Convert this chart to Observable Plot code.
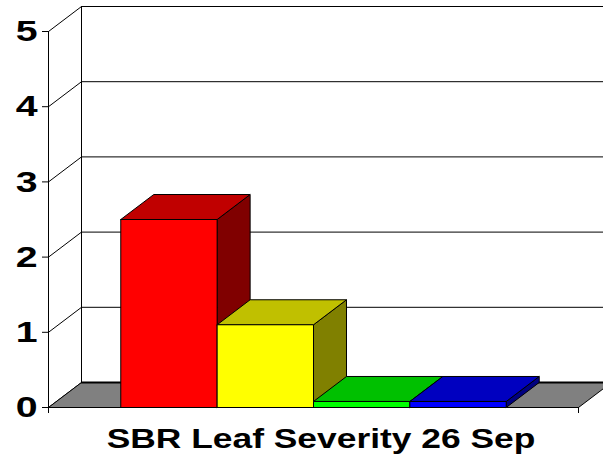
<!DOCTYPE html>
<html>
<head>
<meta charset="utf-8">
<script src="https://cdn.jsdelivr.net/npm/d3@7"></script>
<script src="https://cdn.jsdelivr.net/npm/@observablehq/plot@0.6"></script>
<style>
  html, body { margin: 0; padding: 0; background: #fff; }
  #chart svg { display: block; }
  #title { position: relative; width: 603px; height: 37px; }
  #title span {
    position: absolute; left: 320.5px; top: 0;
    font: bold 27px "Liberation Sans", Arial, sans-serif;
    line-height: 31px; white-space: nowrap;
    transform: translateX(-50%) scaleX(1.31);
  }
</style>
</head>
<body>
<div id="chart"></div>
<div id="title"><span id="titleSpan"></span></div>
<script>
// ---- data ----
const categories = ["A", "B", "C", "D"];
const severity = [2.5, 1.1, 0.08, 0.08];
const yTicks = [0, 1, 2, 3, 4, 5];
const titleText = "SBR Leaf Severity 26 Sep";

// ---- style ----
const frontColors = ["#FF0000", "#FFFF00", "#00FF00", "#0000FF"];
const topColors   = ["#C00000", "#C0C000", "#00C000", "#0000C0"];
const sideColors  = ["#800000", "#808000", "#008000", "#000080"];
const floorColor = "#808080";

const W = 603, H = 424;
const mL = 48, mR = 25, mT = 31, mB = 17;
const gap = 0.75;                         // category gap (in bar widths)
const xMax = categories.length + 2 * gap; // x domain extent
const yMax = 5;
// 3-D depth offset, pixels -> data units
const depthPx = 33, risePx = 25;
const DX = depthPx * xMax / (W - mL - mR);
const DY = risePx * yMax / (H - mT - mB);

document.getElementById("titleSpan").textContent = titleText;

// ---- polygons for faces ----
function ring(id, color, pts) {
  return pts.concat([pts[0]]).map(([x, y]) => ({id, color, x, y}));
}
const floorFace = ring("floor", floorColor, [[0, 0], [xMax, 0], [xMax + DX, DY], [DX, DY]]);
const barFaces = [];
categories.forEach((c, i) => {
  const x0 = gap + i, x1 = gap + i + 1, v = severity[i];
  barFaces.push(...ring(c + "-side", sideColors[i], [[x1, 0], [x1 + DX, DY], [x1 + DX, v + DY], [x1, v]]));
  barFaces.push(...ring(c + "-top", topColors[i], [[x0, v], [x1, v], [x1 + DX, v + DY], [x0 + DX, v + DY]]));
  barFaces.push(...ring(c + "-front", frontColors[i], [[x0, 0], [x1, 0], [x1, v], [x0, v]]));
});

const chart = Plot.plot({
  width: W, height: H,
  marginLeft: mL, marginRight: mR, marginTop: mT, marginBottom: mB,
  style: {fontFamily: "Liberation Sans, Arial, sans-serif", overflow: "visible"},
  x: {type: "linear", domain: [0, xMax], label: null},
  y: {type: "linear", domain: [0, yMax], label: null},
  color: {type: "identity"},
  marks: [
    // back wall gridlines
    Plot.ruleY(yTicks.slice(1), {y: d => d + DY, x1: DX, x2: xMax + DX + 0.5, stroke: "black", strokeWidth: 1}),
    // back wall left edge
    Plot.ruleX([DX], {y1: DY, y2: yMax + DY, stroke: "black", strokeWidth: 1}),
    // side wall diagonals
    Plot.link(yTicks, {x1: 0, y1: d => d, x2: DX, y2: d => d + DY, stroke: "black", strokeWidth: 1}),
    // floor
    Plot.line(floorFace, {x: "x", y: "y", z: "id", fill: "color", stroke: "black", strokeWidth: 1, strokeLinejoin: "miter"}),
    Plot.ruleY([DY], {x1: DX, x2: xMax + DX + 0.5, stroke: "black", strokeWidth: 2}),
    // bars
    Plot.line(barFaces, {x: "x", y: "y", z: "id", fill: "color", stroke: "black", strokeWidth: 1, strokeLinejoin: "miter"}),
    // front value axis
    Plot.ruleX([0], {y1: 0, y2: yMax, stroke: "black", strokeWidth: 1}),
    Plot.axisY(yTicks, {tickSize: 6, tickPadding: 5, tickFormat: d3.format("d"), label: null, fontSize: 30, fontWeight: "bold", fill: "black", stroke: "black", strokeWidth: 1}),
    Plot.axisX([0, xMax], {tickSize: 6, tickFormat: () => "", label: null, stroke: "black"})
  ]
});
document.getElementById("chart").appendChild(chart);

// stretch tick labels horizontally like the reference
d3.select(chart).selectAll('g[aria-label="y-axis tick label"] text').each(function() {
  const t = this.getAttribute("transform");
  if (t) this.setAttribute("transform", t + " scale(1.31,1)");
});
</script>
</body>
</html>
